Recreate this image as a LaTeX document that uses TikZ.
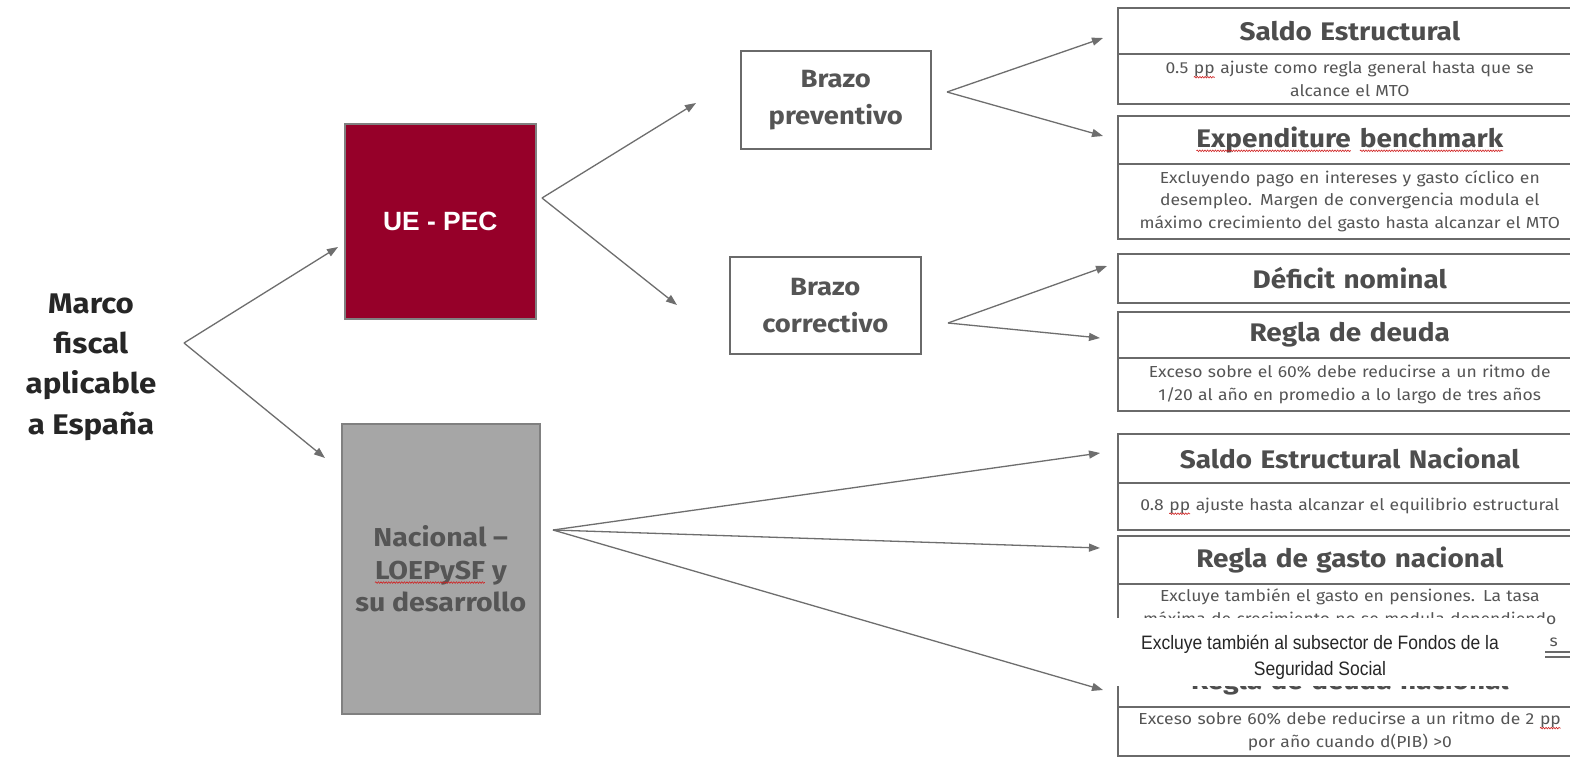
\documentclass[tikz,border=0pt]{standalone}
\usepackage{fontspec}
\setmainfont{Fira Sans}[FakeStretch=1.1]
\newfontfamily\arialfont{Liberation Sans}
\newfontfamily\narrowfont[FakeStretch=0.9]{Liberation Sans}
\usetikzlibrary{arrows.meta,calc,decorations.pathmorphing}
\definecolor{uered}{HTML}{960029}
\definecolor{nacgray}{HTML}{A6A6A6}
\definecolor{nacborder}{HTML}{808080}
\definecolor{boxline}{HTML}{6A6A6A}
\definecolor{arrowgray}{HTML}{6E6E6E}
\definecolor{titlegray}{HTML}{4D4D4D}
\definecolor{bodygray}{HTML}{555555}
\definecolor{darktext}{HTML}{262626}
\definecolor{spellred}{HTML}{D02020}
\newcommand\spell[1]{\tikz[baseline=(sw.base)]{\node[inner sep=0pt,outer sep=0pt,draw=none,fill=none,minimum width=0pt,minimum height=0pt,text width={},shape=rectangle,anchor=center](sw){#1};\draw[spellred,line width=0.6bp,decorate,decoration={snake,amplitude=0.8bp,segment length=2.6bp}] ([yshift=-3.5bp]sw.base west) -- ([yshift=-3.5bp]sw.base east);}}
\tikzset{
  arr/.style={draw=arrowgray,line width=1.3bp,-{Triangle[length=11bp,width=8bp]}},
  rhead/.style={draw=boxline,line width=1.6bp,anchor=north west,inner sep=0pt,minimum width=464bp,text width=464bp,align=center,text=titlegray,font=\fontsize{25.5}{30}\selectfont\bfseries},
  rbody/.style={draw=boxline,line width=1.6bp,anchor=north west,inner sep=0pt,minimum width=464bp,text width=464bp,align=center,text=bodygray,font=\fontsize{16}{22.5}\selectfont},
  brazo/.style={draw=boxline,line width=1.6bp,anchor=north west,inner sep=0pt,align=center,text=bodygray,font=\fontsize{25}{37}\selectfont\bfseries},
}
\begin{document}
\begin{tikzpicture}[x=1bp,y=-1bp]
\useasboundingbox[fill=white] (0,0) rectangle (1570,757);
% left title
\node[align=center,text=darktext,font=\fontsize{28.5}{40.5}\selectfont\bfseries] (marco) at (91,367) {Marco\\fiscal\\aplicable\\a España};
% UE - PEC
\node[draw=nacborder,fill=uered,line width=1.5bp,anchor=north west,minimum width=191bp,minimum height=195bp,inner sep=0pt,text=white,font=\arialfont\fontsize{26.5}{30}\selectfont\bfseries] (ue) at (344,123) {UE - PEC};
% Nacional
\node[draw=nacborder,fill=nacgray,line width=1.5bp,anchor=north west,minimum width=198bp,minimum height=290bp,inner sep=0pt,align=center,text=bodygray,font=\fontsize{26}{33}\selectfont\bfseries] (nac) at (341,423) {Nacional --\\\spell{LOEPySF} y\\su desarrollo};
% Brazos
\node[brazo,minimum width=190bp,minimum height=98bp] (prev) at (740,50) {Brazo\\preventivo};
\node[brazo,minimum width=191bp,minimum height=97bp] (corr) at (729,256) {Brazo\\correctivo};
% right boxes
\node[rhead,minimum height=46bp] (b1h) at (1117,7) {Saldo Estructural};
\node[rbody,minimum height=50bp] (b1b) at (1117,53) {0.5 \spell{pp} ajuste como regla general hasta que se\\alcance el MTO};
\node[rhead,minimum height=48bp] (b2h) at (1117,115) {\spell{Expenditure} \spell{benchmark}};
\node[rbody,minimum height=75bp] (b2b) at (1117,163) {Excluyendo pago en intereses y gasto cíclico en\\desempleo. Margen de convergencia modula el\\máximo crecimiento del gasto hasta alcanzar el MTO};
\node[rhead,minimum height=49bp] (b3h) at (1117,253) {Déficit nominal};
\node[rhead,minimum height=46bp] (b4h) at (1117,311) {Regla de deuda};
\node[rbody,minimum height=53bp] (b4b) at (1117,357) {Exceso sobre el 60\% debe reducirse a un ritmo de\\1/20 al año en promedio a lo largo de tres años};
\node[rhead,minimum height=49bp] (b5h) at (1117,433) {Saldo Estructural Nacional};
\node[rbody,minimum height=47bp] (b5b) at (1117,482) {0.8 \spell{pp} ajuste hasta alcanzar el equilibrio estructural};
\node[rhead,minimum height=48bp] (b6h) at (1117,535) {Regla de gasto nacional};
\node[rbody,minimum height=68bp] (b6b) at (1117,583) {Excluye también el gasto en pensiones. La tasa\\máxima de crecimiento no se modula dependiendo\\\makebox[416bp][r]{s}};
\node[rhead,minimum height=50bp] (b7h) at (1117,656) {Regla de deuda nacional};
\node[rbody,minimum height=49bp] (b7b) at (1117,706) {Exceso sobre 60\% debe reducirse a un ritmo de 2 \spell{pp}\\por año cuando d(PIB) >0};
% overlay note
\node[fill=white,anchor=north west,minimum width=437bp,minimum height=68bp,inner sep=0pt] (ov) at (1108,618) {};
\node[align=center,text=darktext,font=\narrowfont\fontsize{19.5}{26}\selectfont] (note) at (1320,657) {Excluye también al subsector de Fondos de la\\Seguridad Social};
% connector points
\coordinate (aM) at (184,343);
\coordinate (aU) at (542,198);
\coordinate (aP) at (947,92);
\coordinate (aC) at (948,323);
\coordinate (aN) at (553,530);
\coordinate (tUE) at (338,247);
\coordinate (tNac) at (325,458);
\coordinate (tPrev) at (696,103);
\coordinate (tCorr) at (677,305);
\coordinate (tB1) at (1103,38);
\coordinate (tB2) at (1103,136);
\coordinate (tB3) at (1107,266);
\coordinate (tB4) at (1100,338);
\coordinate (tB5) at (1100,453);
\coordinate (tB6) at (1100,548);
\coordinate (tB7) at (1103,690);
% connectors
\draw[arr] (aM) -- (tUE);
\draw[arr] (aM) -- (tNac);
\draw[arr] (aU) -- (tPrev);
\draw[arr] (aU) -- (tCorr);
\draw[arr] (aP) -- (tB1);
\draw[arr] (aP) -- (tB2);
\draw[arr] (aC) -- (tB3);
\draw[arr] (aC) -- (tB4);
\draw[arr] (aN) -- (tB5);
\draw[arr] (aN) -- (tB6);
\draw[arr] (aN) -- (tB7);
\end{tikzpicture}
\end{document}
